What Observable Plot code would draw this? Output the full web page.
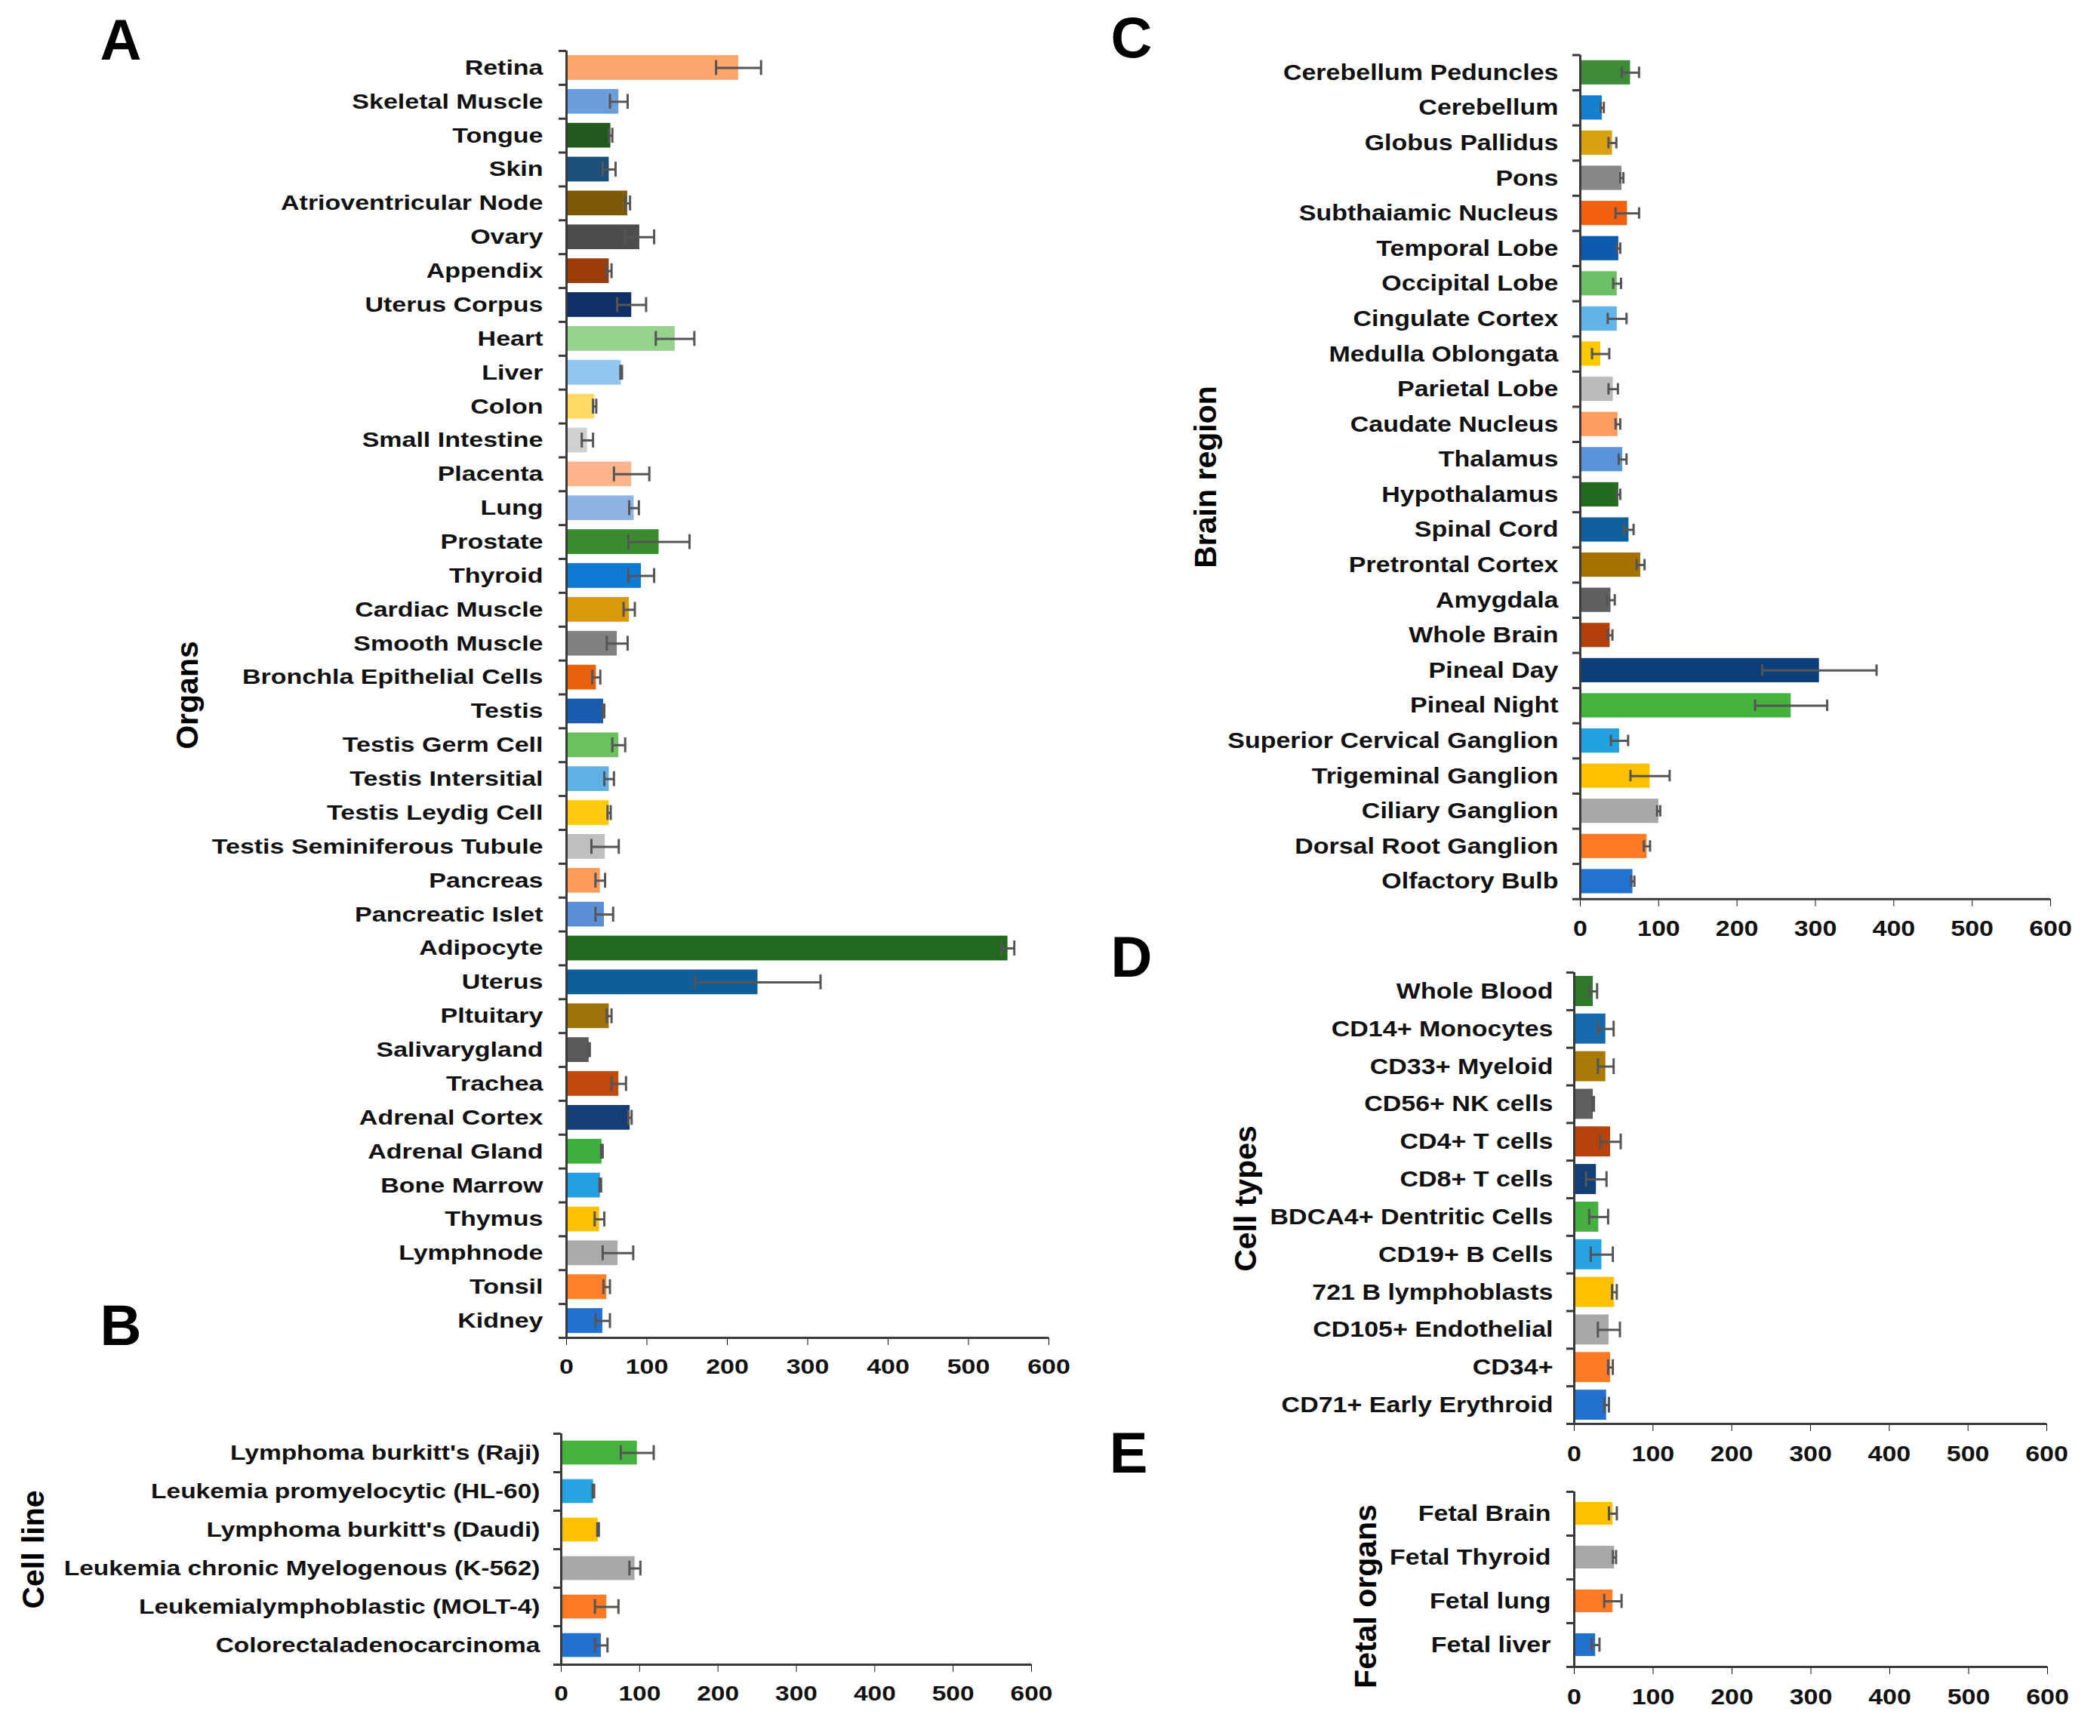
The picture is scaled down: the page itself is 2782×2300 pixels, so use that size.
<!DOCTYPE html>
<html><head><meta charset="utf-8">
<script src="https://cdn.jsdelivr.net/npm/d3@7"></script>
<script src="https://cdn.jsdelivr.net/npm/@observablehq/plot@0.6"></script>
<style>
body{margin:0;background:#fff;}
#root{position:relative;width:2782px;height:2300px;overflow:hidden;font-family:"Liberation Sans",Arial,sans-serif;font-weight:bold;color:#000;background:#fff}
.panel{position:absolute}
.letter{position:absolute;font-size:76px;font-weight:bold;line-height:1;transform:translate(-50%,-50%)}
.atitle{position:absolute;font-size:41px;font-weight:bold;white-space:nowrap;line-height:1;transform:translate(-50%,-50%) rotate(-90deg)}
</style></head><body><div id="root"></div>
<script>
// ---------- data ----------
const xTicks = [0, 100, 200, 300, 400, 500, 600];

const organNames = ["Retina","Skeletal Muscle","Tongue","Skin","Atrioventricular Node","Ovary","Appendix","Uterus Corpus","Heart","Liver","Colon","Small Intestine","Placenta","Lung","Prostate","Thyroid","Cardiac Muscle","Smooth Muscle","Bronchla Epithelial Cells","Testis","Testis Germ Cell","Testis Intersitial","Testis Leydig Cell","Testis Seminiferous Tubule","Pancreas","Pancreatic Islet","Adipocyte","Uterus","Pltuitary","Salivarygland","Trachea","Adrenal Cortex","Adrenal Gland","Bone Marrow","Thymus","Lymphnode","Tonsil","Kidney"];
const organValues = [214,65,55,53,76,91,53,81,135,68,35,26,81,84,115,93,78,63,37,46,65,53,53,48,42,47,549,238,53,28,65,79,44,42,41,64,50,45];
const organErrors = [28,11,2,8,3,18,3,18,24,1,2,7,22,6,38,16,7,13,5,1,8,6,2,17,6,11,8,78,3,1,9,2,1,1,6,19,4,9];
const organColors = ["#FCA66E","#6E9DDC","#225A1E","#1B4F7C","#7D5A06","#4D4D4D","#9C3A08","#0F2F66","#95D28B","#93C6EE","#FFD966","#D0D0D0","#FCB48A","#8EB4E6","#3A8A30","#0F7AD1","#D99A0A","#808080","#E8600A","#1A5BB0","#6CC060","#60B1E6","#FFC90E","#BFBFBF","#FF9C5C","#5B90D8","#236A1E","#0F5E99","#A0720A","#595959","#C04A10","#173E74","#3CAF3C","#25A0E0","#FFC000","#ABABAB","#FF7F2A","#2270D0"];

const cellLineNames = ["Lymphoma burkitt's (Raji)","Leukemia promyelocytic (HL-60)","Lymphoma burkitt's (Daudi)","Leukemia chronic Myelogenous (K-562)","Leukemialymphoblastic (MOLT-4)","Colorectaladenocarcinoma"];
const cellLineValues = [97,41,47,94,58,51];
const cellLineErrors = [21,1,1,7,15,8];
const cellLineColors = ["#45B23E","#25A3E2","#FFC000","#A8A8A8","#FF7A25","#2270D0"];

const brainNames = ["Cerebellum Peduncles","Cerebellum","Globus Pallidus","Pons","Subthaiamic Nucleus","Temporal Lobe","Occipital Lobe","Cingulate Cortex","Medulla Oblongata","Parietal Lobe","Caudate Nucleus","Thalamus","Hypothalamus","Spinal Cord","Pretrontal Cortex","Amygdala","Whole Brain","Pineal Day","Pineal Night","Superior Cervical Ganglion","Trigeminal Ganglion","Ciliary Ganglion","Dorsal Root Ganglion","Olfactory Bulb"];
const brainValues = [64,28,41,53,60,49,47,47,26,42,48,54,49,62,77,39,38,305,269,50,89,100,85,67];
const brainErrors = [11,2,5,2,15,2,5,12,11,6,3,5,2,6,5,5,3,73,46,11,25,2,4,2];
const brainColors = ["#3D8B37","#1580D0","#D9A010","#888888","#F06010","#0E5AAE","#6CC065","#62B5E8","#FFC800","#BBBBBB","#FF9E5E","#5A92DC","#246B22","#105F9E","#A57200","#606060","#B5400C","#0C3F7A","#45B23E","#22A2E0","#FFC000","#A8A8A8","#FF7A25","#2272D2"];

const cellTypeNames = ["Whole Blood","CD14+ Monocytes","CD33+ Myeloid","CD56+ NK cells","CD4+ T cells","CD8+ T cells","BDCA4+ Dentritic Cells","CD19+ B Cells","721 B lymphoblasts","CD105+ Endothelial","CD34+","CD71+ Early Erythroid"];
const cellTypeValues = [24,40,40,24,46,28,31,35,51,44,46,41];
const cellTypeErrors = [5,10,10,1,13,13,12,14,3,14,3,3];
const cellTypeColors = ["#2E7A2A","#156AAE","#A87A06","#5F5F5F","#B8420C","#123F78","#45B040","#25A3E2","#FFC000","#A8A8A8","#FF7A25","#2270D0"];

const fetalNames = ["Fetal Brain","Fetal Thyroid","Fetal lung","Fetal liver"];
const fetalValues = [49,51,49,27];
const fetalErrors = [5,2,11,5];
const fetalColors = ["#FFC000","#A8A8A8","#FF7A25","#2270D0"];

// ---------- drawing ----------
const root = document.getElementById("root");
const axisColor = "#3a3a3a";
const errColor = "#555555";

// flatten the label glyphs slightly (the reference lettering is wide and short)
function squash(svg, k) {
  const num = v => v != null && /^\s*-?[\d.]+(px)?\s*$/.test(v);
  svg.querySelectorAll("text").forEach(t => {
    const xa = t.getAttribute("x"), ya = t.getAttribute("y");
    let tx = 0, ty = 0;
    if (num(xa)) { tx = parseFloat(xa); t.removeAttribute("x"); }
    if (num(ya)) { ty = parseFloat(ya); t.removeAttribute("y"); }
    const tr = t.getAttribute("transform") || "";
    t.setAttribute("transform", `${tr} translate(${tx},${ty}) scale(1,${k})`);
  });
}

function panel(o) {
  const data = o.names.map((n, i) => ({name: n, value: o.values[i], err: o.errors[i]}));
  const n = o.names.length;
  const step = (o.height - o.mt - o.mb) / n;
  const chart = Plot.plot({
    width: o.width, height: o.height,
    marginLeft: o.ml, marginRight: o.mr, marginTop: o.mt, marginBottom: o.mb,
    style: {fontFamily: "'Liberation Sans', Arial, sans-serif", fontSize: o.fs + "px", fontWeight: "bold", color: "#111", background: "transparent", overflow: "visible"},
    x: {domain: [0, 600], ticks: xTicks, tickSize: 10, tickPadding: 18, label: null, tickFormat: d => String(d)},
    y: {domain: o.names, paddingInner: o.pad, paddingOuter: o.pad / 2, round: false, tickSize: 0, tickPadding: o.labelPad, label: null},
    color: {domain: o.names, range: o.colors},
    marks: [
      Plot.barX(data, {x: "value", y: "name", fill: "name"}),
      Plot.ruleY(data, {y: "name", x1: d => d.value - d.err, x2: d => d.value + d.err, stroke: errColor, strokeWidth: 3}),
      Plot.tickX(data, {x: d => d.value - d.err, y: "name", stroke: errColor, strokeWidth: 3, insetTop: o.cap, insetBottom: o.cap}),
      Plot.tickX(data, {x: d => d.value + d.err, y: "name", stroke: errColor, strokeWidth: 3, insetTop: o.cap, insetBottom: o.cap}),
      Plot.ruleX([0], {stroke: axisColor, strokeWidth: 3}),
      Plot.ruleY(data, {y: "name", dy: -step / 2, x1: 0, x2: 0, insetLeft: -10, stroke: axisColor, strokeWidth: 3}),
      Plot.ruleY([o.names[n - 1]], {y: d => d, dy: step / 2, x1: 0, x2: 600, insetLeft: -10, stroke: axisColor, strokeWidth: 3})
    ]
  });
  squash(chart, o.k);
  const div = document.createElement("div");
  div.className = "panel";
  div.style.left = o.left + "px";
  div.style.top = o.top + "px";
  div.appendChild(chart);
  root.appendChild(div);
}

function letter(t, x, y) {
  const d = document.createElement("div");
  d.className = "letter"; d.textContent = t;
  d.style.left = x + "px"; d.style.top = y + "px";
  root.appendChild(d);
}
function title(t, x, y) {
  const d = document.createElement("div");
  d.className = "atitle"; d.textContent = t;
  d.style.left = x + "px"; d.style.top = y + "px";
  root.appendChild(d);
}

panel({names: organNames, values: organValues, errors: organErrors, colors: organColors,
  left: 0, top: 0, width: 1440, height: 1840, ml: 750, mr: 51, mt: 67, mb: 68, pad: 0.27, cap: 6.5, labelPad: 31, k: 0.82, fs: 34});
panel({names: cellLineNames, values: cellLineValues, errors: cellLineErrors, colors: cellLineColors,
  left: 0, top: 1850, width: 1440, height: 450, ml: 743, mr: 74, mt: 49, mb: 95, pad: 0.38, cap: 6, labelPad: 28, k: 0.84, fs: 33.5});
panel({names: brainNames, values: brainValues, errors: brainErrors, colors: brainColors,
  left: 1460, top: 0, width: 1322, height: 1250, ml: 633, mr: 66, mt: 72.5, mb: 59.3, pad: 0.31, cap: 8.5, labelPad: 29, k: 0.87, fs: 34});
panel({names: cellTypeNames, values: cellTypeValues, errors: cellTypeErrors, colors: cellTypeColors,
  left: 1460, top: 1255, width: 1322, height: 680, ml: 625, mr: 71, mt: 33, mb: 49, pad: 0.2, cap: 9.5, labelPad: 28, k: 0.87, fs: 34});
panel({names: fetalNames, values: fetalValues, errors: fetalErrors, colors: fetalColors,
  left: 1460, top: 1945, width: 1322, height: 355, ml: 625, mr: 70, mt: 31, mb: 92, pad: 0.48, cap: 5.7, labelPad: 31, k: 0.87, fs: 34});

letter("A", 160, 53);
letter("B", 160, 1756);
letter("C", 1499, 50);
letter("D", 1499, 1268);
letter("E", 1495, 1925);

title("Organs", 248, 921);
title("Cell line", 44, 2053);
title("Brain region", 1597, 632);
title("Cell types", 1650, 1588);
title("Fetal organs", 1809, 2115);
</script></body></html>
